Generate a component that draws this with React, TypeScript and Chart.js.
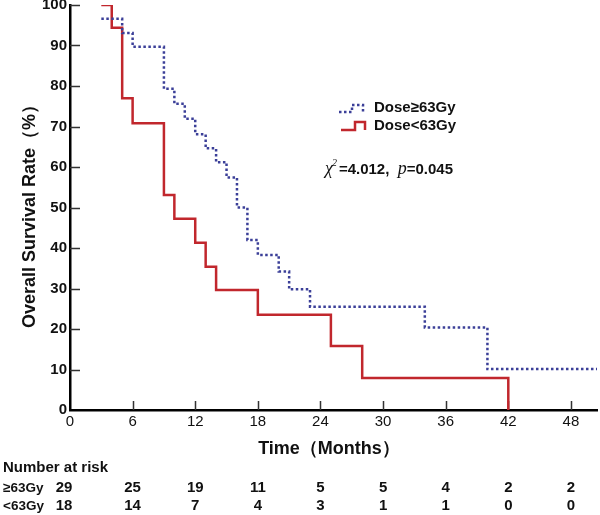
import React, { useEffect, useRef } from 'react';
import { Chart, registerables } from 'chart.js';

Chart.register(...registerables);

// ---- data ----
const groupLabels = ['Dose≥63Gy', 'Dose<63Gy'];
const riskRowLabels = ['≥63Gy', '<63Gy'];

const highTimes = [3, 5, 6, 9, 10, 11, 12, 13, 14, 15, 16, 17, 18, 20, 21, 23, 34, 40, 50.5];
const highSurv = [96.6, 93.1, 89.7, 79.3, 75.6, 71.9, 68.1, 64.6, 61.2, 57.4, 50.0, 42.0, 38.3, 34.2, 29.8, 25.5, 20.4, 10.1, 10.1];

const lowTimes = [3, 4, 5, 6, 9, 10, 12, 13, 14, 18, 25, 28, 42];
const lowSurv = [100, 94.4, 77.0, 70.8, 53.1, 47.2, 41.3, 35.4, 29.6, 23.5, 15.8, 7.9, 0];

const xTickValues = [0, 6, 12, 18, 24, 30, 36, 42, 48];
const yTickValues = [0, 10, 20, 30, 40, 50, 60, 70, 80, 90, 100];

const riskTimes = [0, 6, 12, 18, 24, 30, 36, 42, 48];
const riskHigh = [29, 25, 19, 11, 5, 5, 4, 2, 2];
const riskLow = [18, 14, 7, 4, 3, 1, 1, 0, 0];

const xTitle = 'Time（Months）';
const yTitle = 'Overall Survival Rate（%）';
const riskTitle = 'Number at risk';
const chiParts = { chi: 'χ', sup: '2', stat: '=4.012,  ', p: 'p', pval: '=0.045' };

const BLUE = '#3b3f98';
const RED = '#c1272d';
const SANS = 'Arial, "Liberation Sans", sans-serif';
const SERIF = '"Times New Roman", "Liberation Serif", serif';

const overlayPlugin = {
  id: 'kmOverlay',
  beforeDatasetsDraw(chart: any) {
    const { ctx, chartArea, scales } = chart;
    const xs = scales.x;
    const ys = scales.y;
    ctx.save();
    ctx.strokeStyle = '#333';
    ctx.lineWidth = 1.5;
    ctx.beginPath();
    yTickValues.forEach((v) => {
      if (v === 0) return;
      const y = Math.round(ys.getPixelForValue(v)) + 0.5;
      ctx.moveTo(chartArea.left, y);
      ctx.lineTo(chartArea.left + 10, y);
    });
    xTickValues.forEach((v) => {
      if (v === 0) return;
      const x = Math.round(xs.getPixelForValue(v)) + 0.5;
      ctx.moveTo(x, chartArea.bottom);
      ctx.lineTo(x, chartArea.bottom - 9);
    });
    ctx.stroke();
    ctx.restore();
  },
  afterDraw(chart: any) {
    const { ctx, scales } = chart;
    const xs = scales.x;
    ctx.save();
    ctx.fillStyle = '#111';

    // axis titles
    ctx.font = `bold 18px ${SANS}`;
    ctx.textAlign = 'center';
    ctx.textBaseline = 'middle';
    ctx.fillText(xTitle, 329, 449);
    ctx.save();
    ctx.translate(30, 212);
    ctx.rotate(-Math.PI / 2);
    ctx.fillText(yTitle, 0, 0);
    ctx.restore();

    // legend
    ctx.lineWidth = 2.5;
    ctx.strokeStyle = BLUE;
    ctx.setLineDash([2.5, 2.5]);
    ctx.beginPath();
    ctx.moveTo(339, 112);
    ctx.lineTo(352, 112);
    ctx.lineTo(352, 105);
    ctx.lineTo(363, 105);
    ctx.lineTo(363, 112);
    ctx.stroke();
    ctx.setLineDash([]);
    ctx.strokeStyle = RED;
    ctx.beginPath();
    ctx.moveTo(341, 130);
    ctx.lineTo(355, 130);
    ctx.lineTo(355, 122);
    ctx.lineTo(365, 122);
    ctx.lineTo(365, 130);
    ctx.stroke();

    ctx.fillStyle = '#111';
    ctx.font = `bold 15px ${SANS}`;
    ctx.textAlign = 'left';
    ctx.textBaseline = 'middle';
    ctx.fillText(groupLabels[0], 374, 108);
    ctx.fillText(groupLabels[1], 374, 126);

    // chi-square text
    ctx.textBaseline = 'alphabetic';
    let cx = 325;
    const base = 174;
    ctx.font = `italic 18px ${SERIF}`;
    ctx.fillText(chiParts.chi, cx, base);
    cx += ctx.measureText(chiParts.chi).width;
    ctx.font = `italic 10px ${SERIF}`;
    ctx.fillText(chiParts.sup, cx - 1, base - 8);
    cx += ctx.measureText(chiParts.sup).width + 1;
    ctx.font = `bold 15px ${SANS}`;
    ctx.fillText(chiParts.stat, cx, base);
    cx += ctx.measureText(chiParts.stat).width;
    ctx.font = `italic 18px ${SERIF}`;
    ctx.fillText(chiParts.p, cx, base);
    cx += ctx.measureText(chiParts.p).width;
    ctx.font = `bold 15px ${SANS}`;
    ctx.fillText(chiParts.pval, cx, base);

    // number at risk table
    ctx.font = `bold 15px ${SANS}`;
    ctx.textAlign = 'left';
    ctx.textBaseline = 'middle';
    ctx.fillText(riskTitle, 3, 468);
    ctx.font = `bold 13.5px ${SANS}`;
    ctx.fillText(riskRowLabels[0], 3, 488);
    ctx.fillText(riskRowLabels[1], 3, 506);
    ctx.font = `bold 15px ${SANS}`;
    ctx.textAlign = 'center';
    riskTimes.forEach((t, i) => {
      const px = xs.getPixelForValue(t) - (i === 0 ? 6 : 0);
      ctx.fillText(String(riskHigh[i]), px, 488);
      ctx.fillText(String(riskLow[i]), px, 506);
    });
    ctx.restore();
  },
};

export default function App() {
  const canvasRef = useRef<HTMLCanvasElement | null>(null);

  useEffect(() => {
    document.body.style.margin = '0';
    const canvas = canvasRef.current;
    if (!canvas) return;
    const chart = new Chart(canvas, {
      type: 'scatter',
      data: {
        datasets: [
          {
            label: groupLabels[0],
            data: highTimes.map((t, i) => ({ x: t, y: highSurv[i] })),
            showLine: true,
            stepped: true,
            borderColor: BLUE,
            borderWidth: 2.5,
            borderDash: [2.5, 2.5],
            pointRadius: 0,
            fill: false,
          },
          {
            label: groupLabels[1],
            data: lowTimes.map((t, i) => ({ x: t, y: lowSurv[i] })),
            showLine: true,
            stepped: true,
            borderColor: RED,
            borderWidth: 2.5,
            pointRadius: 0,
            fill: false,
          },
        ],
      } as any,
      options: {
        animation: false,
        responsive: false,
        maintainAspectRatio: false,
        layout: { padding: { top: 5, right: 3, left: 0, bottom: 0 } },
        plugins: { legend: { display: false }, tooltip: { enabled: false } },
        scales: {
          x: {
            type: 'linear',
            min: 0,
            max: 50.5,
            afterBuildTicks: (s: any) => {
              s.ticks = xTickValues.map((v) => ({ value: v }));
            },
            afterFit: (s: any) => {
              s.height = 105;
              s.paddingLeft = 0;
              s.paddingRight = 0;
            },
            grid: { display: false, drawTicks: false },
            border: { color: '#000', width: 2.5 },
            ticks: {
              font: { family: SANS, size: 15 },
              color: '#111',
              padding: 3,
              maxRotation: 0,
              autoSkip: false,
            },
          },
          y: {
            type: 'linear',
            min: 0,
            max: 100,
            afterBuildTicks: (s: any) => {
              s.ticks = yTickValues.map((v) => ({ value: v }));
            },
            afterFit: (s: any) => {
              s.width = 70;
              s.paddingTop = 0;
              s.paddingBottom = 0;
            },
            grid: { display: false, drawTicks: false },
            border: { color: '#000', width: 2.5 },
            ticks: {
              font: { family: SANS, size: 15, weight: 'bold' },
              color: '#111',
              padding: 3,
              autoSkip: false,
            },
          },
        },
      } as any,
      plugins: [overlayPlugin],
    });
    return () => chart.destroy();
  }, []);

  return (
    <div style={{ position: 'absolute', left: 0, top: 0, width: 600, height: 515, background: '#fff' }}>
      <canvas ref={canvasRef} width={600} height={515} style={{ width: 600, height: 515, display: 'block' }} />
    </div>
  );
}
